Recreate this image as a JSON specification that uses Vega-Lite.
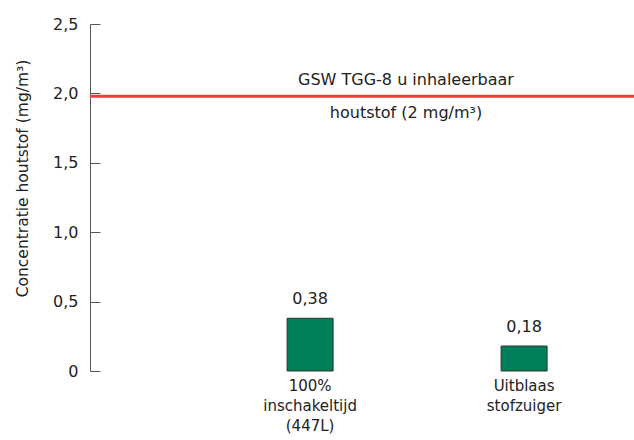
{
  "$schema": "https://vega.github.io/schema/vega-lite/v6.json",
  "width": 544,
  "height": 347,
  "autosize": {"type": "none"},
  "padding": {"left": 90, "top": 24, "right": 0, "bottom": 69},
  "background": "white",
  "config": {
    "view": {"stroke": null},
    "font": "DejaVu Sans",
    "axis": {"labelFont": "DejaVu Sans", "titleFont": "DejaVu Sans", "labelColor": "#222", "titleColor": "#222"}
  },
  "data": {
    "values": [
      {"categorie": "100%|inschakeltijd|(447L)", "waarde": 0.38},
      {"categorie": "Uitblaas|stofzuiger", "waarde": 0.18}
    ]
  },
  "layer": [
    {
      "mark": {"type": "bar", "color": "#00805a", "stroke": "#333333", "strokeWidth": 1},
      "encoding": {
        "x": {
          "field": "categorie", "type": "nominal", "sort": null,
          "scale": {"paddingInner": 0.785, "paddingOuter": 0.6636, "align": 0.694},
          "axis": {
            "title": null, "domain": false, "ticks": false, "labelAngle": 0,
            "labelExpr": "split(datum.label, '|')", "labelFontSize": 15, "labelLineHeight": 20,
            "labelPadding": 7, "labelBaseline": "top"
          }
        },
        "y": {
          "field": "waarde", "type": "quantitative",
          "scale": {"domain": [0, 2.5], "nice": false},
          "axis": {
            "title": "Concentratie houtstof (mg/m³)",
            "titleFontSize": 15.5, "titleFontWeight": "normal",
            "titleX": -68, "titleY": 154, "titleAngle": -90, "titleAlign": "center", "titleBaseline": "middle",
            "values": [0, 0.5, 1, 1.5, 2, 2.5],
            "labelExpr": "datum.value == 0 ? '0' : replace(format(datum.value, '.1f'), '.', ',')",
            "labelFontSize": 16, "labelPadding": 22,
            "grid": false, "domainColor": "#555555", "tickColor": "#555555",
            "tickSize": -10, "labelBaseline": "middle"
          }
        }
      }
    },
    {
      "transform": [{"calculate": "replace(format(datum.waarde, '.2f'), '.', ',')", "as": "tekst"}],
      "mark": {"type": "text", "fontSize": 16, "dy": -11, "baseline": "bottom", "color": "#222"},
      "encoding": {
        "x": {"field": "categorie", "type": "nominal", "sort": null},
        "y": {"field": "waarde", "type": "quantitative"},
        "text": {"field": "tekst"}
      }
    },
    {
      "data": {"values": [{"grens": 1.98}]},
      "mark": {"type": "rule", "color": "#e8403a", "strokeWidth": 3},
      "encoding": {"y": {"field": "grens", "type": "quantitative"}}
    },
    {
      "data": {"values": [{"grens": 1.98, "tekst": "GSW TGG-8 u inhaleerbaar"}]},
      "mark": {"type": "text", "fontSize": 16, "dx": 44, "dy": -8, "baseline": "bottom", "align": "center", "color": "#222"},
      "encoding": {"y": {"field": "grens", "type": "quantitative"}, "text": {"field": "tekst"}}
    },
    {
      "data": {"values": [{"grens": 1.98, "tekst": "houtstof (2 mg/m³)"}]},
      "mark": {"type": "text", "fontSize": 16, "dx": 44, "dy": 9, "baseline": "top", "align": "center", "color": "#222"},
      "encoding": {"y": {"field": "grens", "type": "quantitative"}, "text": {"field": "tekst"}}
    }
  ]
}
